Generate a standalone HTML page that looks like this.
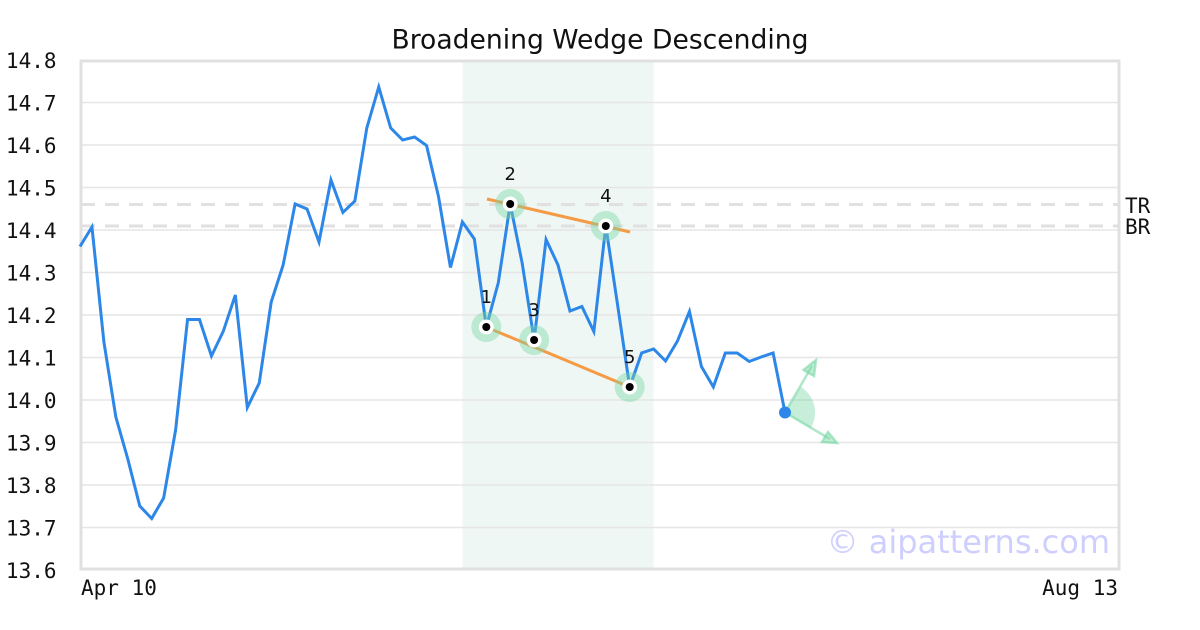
<!DOCTYPE html>
<html><head><meta charset="utf-8"><style>
html,body{margin:0;padding:0;background:#fff;}
svg{display:block;}
</style></head><body>
<svg width="1200" height="630" viewBox="0 0 1200 630" xmlns="http://www.w3.org/2000/svg">
<rect x="0" y="0" width="1200" height="630" fill="#fff"/>
<!-- highlight -->
<rect x="462.5" y="61" width="191" height="508" fill="#eef7f3"/>
<!-- grid -->
<g stroke="#e6e6e6" stroke-width="1.5">
<line x1="81" y1="102.5" x2="1119" y2="102.5"/>
<line x1="81" y1="145" x2="1119" y2="145"/>
<line x1="81" y1="187.5" x2="1119" y2="187.5"/>
<line x1="81" y1="230" x2="1119" y2="230"/>
<line x1="81" y1="272.5" x2="1119" y2="272.5"/>
<line x1="81" y1="315" x2="1119" y2="315"/>
<line x1="81" y1="357.5" x2="1119" y2="357.5"/>
<line x1="81" y1="400" x2="1119" y2="400"/>
<line x1="81" y1="442.5" x2="1119" y2="442.5"/>
<line x1="81" y1="485" x2="1119" y2="485"/>
<line x1="81" y1="527.5" x2="1119" y2="527.5"/>
</g>
<!-- dashed TR/BR -->
<g stroke="#e0e0e0" stroke-width="3" stroke-dasharray="14,10">
<line x1="81" y1="204.5" x2="1119" y2="204.5"/>
<line x1="81" y1="226" x2="1119" y2="226"/>
</g>
<!-- frame -->
<rect x="81" y="61" width="1038" height="508" fill="none" stroke="#e0e0e0" stroke-width="3"/>
<!-- y labels -->
<g font-family="'DejaVu Sans Mono','Liberation Mono',monospace" font-size="21" fill="#111" text-anchor="end">
<text x="56.5" y="68">14.8</text>
<text x="56.5" y="110.5">14.7</text>
<text x="56.5" y="153">14.6</text>
<text x="56.5" y="195.5">14.5</text>
<text x="56.5" y="238">14.4</text>
<text x="56.5" y="280.5">14.3</text>
<text x="56.5" y="323">14.2</text>
<text x="56.5" y="365.5">14.1</text>
<text x="56.5" y="408">14.0</text>
<text x="56.5" y="450.5">13.9</text>
<text x="56.5" y="493">13.8</text>
<text x="56.5" y="535.5">13.7</text>
<text x="56.5" y="578">13.6</text>
</g>
<g font-family="'DejaVu Sans Mono','Liberation Mono',monospace" font-size="21" fill="#111">
<text x="81" y="595">Apr 10</text>
<text x="1118" y="595" text-anchor="end">Aug 13</text>
<text x="1125" y="213">TR</text>
<text x="1125" y="234">BR</text>
</g>
<!-- title -->
<text x="600" y="48.5" text-anchor="middle" font-family="'DejaVu Sans','Liberation Sans',sans-serif" font-size="26.6" fill="#111">Broadening Wedge Descending</text>
<!-- watermark -->
<text x="1110" y="553" text-anchor="end" font-family="'DejaVu Sans','Liberation Sans',sans-serif" font-size="32" fill="#cfcfff">© aipatterns.com</text>
<!-- price line -->
<polyline fill="none" stroke="#2d87e8" stroke-width="3" stroke-linejoin="miter" points="
80,246.5 91.95,227 103.9,342 115.85,417 127.8,459 139.75,506 151.7,518.5 163.65,498 175.6,430 187.55,319.5
199.5,319.5 211.45,356 223.4,331 235.35,295 247.3,407.5 259.25,383 271.2,302 283.15,265 295.1,204 307.05,209
319,242 330.95,180 342.9,212.5 354.85,201 366.8,128 378.75,87 390.7,128 402.65,140 414.6,137 426.55,145.5
438.5,196.5 450.45,267.5 462.4,222 474.35,239 486.3,327 498.25,283 510.2,204 522.15,263 534.1,340 546.05,239.5
558,265 569.95,311 581.9,306.5 593.85,331.5 605.8,226 617.75,306 629.7,387 641.65,353 653.6,349 665.55,361
677.5,341 689.45,311.5 701.4,366.5 713.35,387 725.3,353 737.25,353 749.2,361.5 761.15,357 773.1,353 785,412.5"/>
<!-- wedge lines -->
<g stroke="#f59a45" stroke-width="3">
<line x1="487" y1="199" x2="630" y2="232"/>
<line x1="486" y1="327" x2="629.7" y2="387"/>
</g>
<!-- pivot markers -->
<g fill="rgba(120,215,165,0.42)">
<circle cx="486.3" cy="327" r="15"/>
<circle cx="510.2" cy="204" r="15"/>
<circle cx="534.1" cy="340" r="15"/>
<circle cx="605.8" cy="226" r="15"/>
<circle cx="629.7" cy="387" r="15"/>
</g>
<g fill="#fff">
<circle cx="486.3" cy="327" r="7.5"/>
<circle cx="510.2" cy="204" r="7.5"/>
<circle cx="534.1" cy="340" r="7.5"/>
<circle cx="605.8" cy="226" r="7.5"/>
<circle cx="629.7" cy="387" r="7.5"/>
</g>
<g fill="#000">
<circle cx="486.3" cy="327" r="4"/>
<circle cx="510.2" cy="204" r="4"/>
<circle cx="534.1" cy="340" r="4"/>
<circle cx="605.8" cy="226" r="4"/>
<circle cx="629.7" cy="387" r="4"/>
</g>
<g font-family="'DejaVu Sans','Liberation Sans',sans-serif" font-size="18" fill="#111" text-anchor="middle">
<text x="486.3" y="303">1</text>
<text x="510.2" y="180">2</text>
<text x="534.1" y="316">3</text>
<text x="605.8" y="202">4</text>
<text x="629.7" y="363">5</text>
</g>
<!-- projection -->
<path d="M785,412.5 L800.5,386.8 A30,30 0 0 1 810.7,428 Z" fill="rgba(120,215,165,0.42)"/>
<g stroke="rgba(120,215,165,0.6)" stroke-width="2.5" fill="rgba(120,215,165,0.45)">
<line x1="785" y1="412.5" x2="812" y2="366"/>
<line x1="785" y1="412.5" x2="830" y2="439"/>
<polygon points="816,360 803.5,370 814,376"/>
<polygon points="837,443 822,442 828,432"/>
</g>
<circle cx="785" cy="412.5" r="6" fill="#2d87e8"/>
</svg>
</body></html>
